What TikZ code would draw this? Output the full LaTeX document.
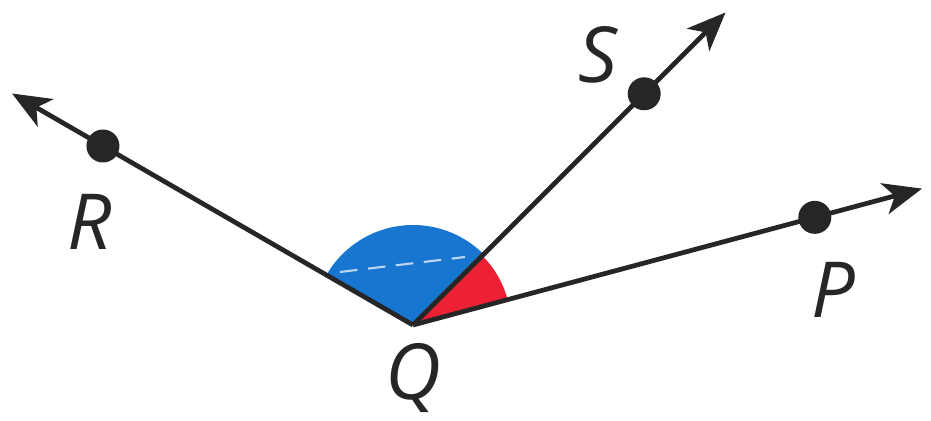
\documentclass[tikz,border=0pt]{standalone}
\usepackage{fontspec}
\setmainfont{Open Sans}
\usetikzlibrary{arrows.meta,calc}

\definecolor{angblue}{RGB}{24,118,208}
\definecolor{angred}{RGB}{238,32,52}

\begin{document}
\begin{tikzpicture}[
    ray/.style={line width=1.35pt,draw=black!85,-{Stealth[length=11pt,width=9pt,inset=3pt]}},
    dot/.style={circle,fill=black!85,inner sep=0pt,minimum size=0.33cm},
    lbl/.style={font=\fontsize{22}{24}\selectfont\itshape,text=black!85}]
  \useasboundingbox (0,0) rectangle (9.31,4.21);
  \coordinate (Q) at (4.13,0.96);
  % angle sectors
  \fill[angblue] (Q) -- ++(45:1.0) arc (45:150:1.0) -- cycle;
  \fill[angred] (Q) -- ++(15:0.98) arc (15:45:0.98) -- cycle;
  \draw[white!70!angblue,line width=0.6pt,dash pattern=on 5pt off 3pt] (3.40,1.49) -- (4.65,1.64);
  % rays
  \coordinate (Rend) at ($(Q)+(150:4.63)$);
  \coordinate (Send) at ($(Q)+(45:4.42)$);
  \coordinate (Pend) at ($(Q)+(15:5.27)$);
  \draw[ray] (Q) -- (Rend);
  \draw[ray] (Q) -- (Send);
  \draw[ray] (Q) -- (Pend);
  % points
  \node[dot] (R) at ($(Q)+(150:3.58)$) {};
  \node[dot] (S) at ($(Q)+(45:3.27)$) {};
  \node[dot] (P) at ($(Q)+(15:4.16)$) {};
  \node[lbl] (Rlbl) at (0.90,1.99) {R};
  \node[lbl] (Slbl) at (5.98,3.66) {S};
  \node[lbl] (Plbl) at (8.33,1.31) {P};
  \node[lbl] (Qlbl) at (4.13,0.43) {Q};
\end{tikzpicture}
\end{document}
